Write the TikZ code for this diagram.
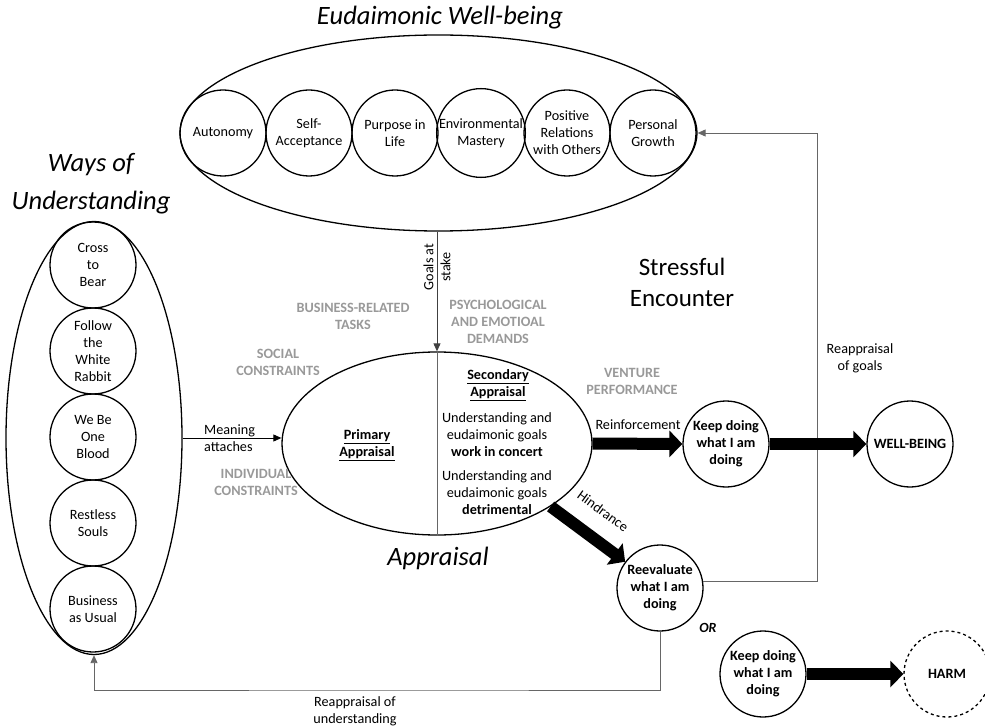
\documentclass[tikz,border=0pt]{standalone}
\usepackage{fontspec}
\setmainfont{Carlito}
\usetikzlibrary{shapes.geometric,arrows.meta}
\begin{document}
\begin{tikzpicture}[x=1pt,y=-1pt,
  txt/.style={font=\fontsize{14.2}{17}\selectfont, align=center, inner sep=0pt},
  btxt/.style={font=\bfseries\fontsize{14.2}{17}\selectfont, align=center, inner sep=0pt},
  circ/.style={circle, draw, line width=1.3pt, minimum size=86pt, inner sep=0pt, align=center, font=\fontsize{14.2}{17}\selectfont},
  bcirc/.style={circ, font=\bfseries\fontsize{14.2}{17}\selectfont},
  oval/.style={ellipse, draw, line width=1.3pt, inner sep=0pt},
  greylab/.style={text=black!40, font=\bfseries\fontsize{14.2}{17}\selectfont, align=center, inner sep=0pt},
  ttl/.style={font=\itshape\fontsize{26.5}{38}\selectfont, align=center, inner sep=0pt},
  thinline/.style={draw=black!60, line width=0.9pt},
  tip/.style={-{Triangle[length=8pt,width=7pt]}},
  fat/.style={line width=12pt, -{Triangle[length=13pt,width=26pt]}},
]
\useasboundingbox (0,0) rectangle (985,727);

% Eudaimonic well-being
\node[ttl] (tE) at (440,18) {Eudaimonic Well-being};
\node[oval, minimum width=517pt, minimum height=196pt] (eud) at (438.5,133) {};
\node[circ] (c1) at (223,133) {Autonomy};
\node[circ] (c2) at (309,133) {Self-\\Acceptance};
\node[circ] (c3) at (395,133) {Purpose in\\Life};
\node[circ] (c4) at (481,133) {Environmental\\Mastery};
\node[circ] (c5) at (567,133) {Positive\\Relations\\with Others};
\node[circ] (c6) at (653,133) {Personal\\Growth};

% Ways of understanding
\node[ttl] (tW) at (91,184) {Ways of\\Understanding};
\node[oval, minimum width=176pt, minimum height=433pt] (wou) at (94,438) {};
\node[circ] (w1) at (93,265) {Cross\\to\\Bear};
\node[circ] (w2) at (93,351) {Follow\\the\\White\\Rabbit};
\node[circ] (w3) at (93,437) {We Be\\One\\Blood};
\node[circ] (w4) at (93,523) {Restless\\Souls};
\node[circ] (w5) at (93,609) {Business\\as Usual};

% Appraisal
\node[oval, minimum width=310pt, minimum height=183pt] (app) at (437,443.5) {};
\draw[thinline] (app.north) -- (app.south);
\draw[thinline, draw=black!75, tip] (app.north |- eud.south) -- (app.north);
\node[txt, rotate=90] (gs) at (437,267) {Goals at\\stake};
\node[btxt] (pa) at (367,445) {\underline{Primary}\\\underline{Appraisal}};
\node[btxt] (sa) at (498,385) {\underline{Secondary}\\\underline{Appraisal}};
\node[txt] (u1) at (497,435) {Understanding and\\eudaimonic goals\\\textbf{work in concert}};
\node[txt] (u2) at (497,493) {Understanding and\\eudaimonic goals\\\textbf{detrimental}};
\node[ttl] (tA) at (438,558) {Appraisal};

% grey labels
\node[greylab] (g1) at (353,316) {BUSINESS-RELATED\\TASKS};
\node[greylab] (g2) at (498,322) {PSYCHOLOGICAL\\AND EMOTIOAL\\DEMANDS};
\node[greylab] (g3) at (278,362) {SOCIAL\\CONSTRAINTS};
\node[greylab] (g4) at (256,482) {INDIVIDUAL\\CONSTRAINTS};
\node[greylab] (g5) at (632,381) {VENTURE\\PERFORMANCE};

\node[font=\fontsize{25}{31}\selectfont, align=center, inner sep=0pt] (tS) at (682,282) {Stressful\\Encounter};

% Meaning attaches
\draw[line width=0.9pt, tip] (wou.east) -- (wou.east -| app.west);
\node[txt, anchor=west, align=left] (ma) at (204,438) {Meaning\\attaches};

% outcome circles
\node[bcirc] (k1) at (726,444) {Keep doing\\what I am\\doing};
\node[bcirc] (wb) at (910,444) {WELL-BEING};
\node[bcirc] (re) at (660,588) {Reevaluate\\what I am\\doing};
\node[bcirc] (k2) at (763,674) {Keep doing\\what I am\\doing};
\node[bcirc, dashed] (harm) at (947,674) {HARM};
\node[font=\bfseries\itshape\fontsize{14}{16}\selectfont, inner sep=0pt] (or) at (708,628) {OR};

% feedback lines
\coordinate (gtop) at (817,133);
\draw[thinline, tip] (re.8) -| (gtop) -- (eud.east |- gtop);
\node[txt] (rg) at (860,358) {Reappraisal\\of goals};
\coordinate (ubot) at (400,690);
\draw[thinline, tip] (re.south) |- (ubot) -| (wou.south);
\node[txt] (ru) at (355,711) {Reappraisal of\\understanding};

% thick arrows
\draw[fat] (app.east) -- (k1.west);
\node[txt] (rl) at (638,425) {Reinforcement};
\draw[fat] (app.-29) -- (re.143);
\node[txt, rotate=-36] (hl) at (603,511) {Hindrance};
\draw[fat] (k1.east) -- (wb.west);
\draw[fat] (k2.east) -- (harm.west);
\end{tikzpicture}
\end{document}
